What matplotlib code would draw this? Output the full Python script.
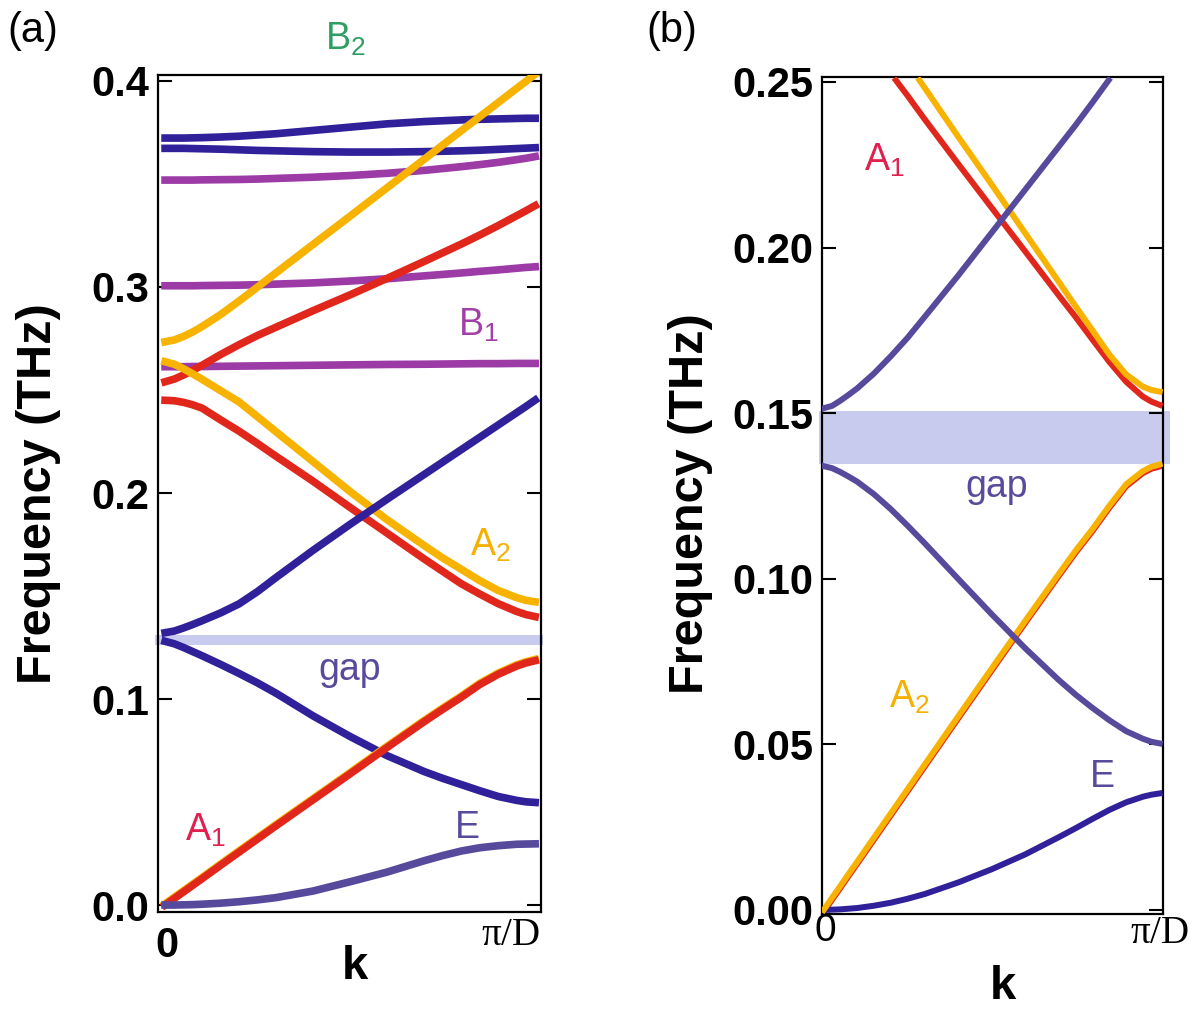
import numpy as np
import matplotlib.pyplot as plt

plt.rcParams['font.family'] = ['Liberation Sans', 'DejaVu Sans']
plt.rcParams['mathtext.default'] = 'regular'

# ===== colours =====
NAVY = '#30209a'
SLATE = '#574a9c'
VIOLET = '#9c3aa6'
RED = '#e1261c'
AMBER = '#f8b200'
GAPC = '#c8cbee'

# ===== panel (a) : k in units of pi/D =====
k_a = [0, 0.025, 0.05, 0.075, 0.1, 0.15, 0.2, 0.25, 0.3, 0.4, 0.5, 0.6, 0.7, 0.75, 0.8, 0.85, 0.9, 0.95, 0.975, 1.0]

a_b2_top = [0.3723, 0.3723, 0.3723, 0.3724, 0.3725, 0.3728, 0.3732, 0.3738, 0.3744, 0.3760, 0.3776, 0.3792, 0.3803, 0.3807, 0.3811, 0.3814, 0.3816, 0.3818, 0.3819, 0.3819]
a_b2_low = [0.3673, 0.3673, 0.3673, 0.3672, 0.3671, 0.3669, 0.3666, 0.3663, 0.3661, 0.3657, 0.3655, 0.3655, 0.3657, 0.3659, 0.3661, 0.3664, 0.3668, 0.3672, 0.3674, 0.3676]
a_b1_top = [0.3519, 0.3519, 0.3519, 0.3519, 0.3520, 0.3521, 0.3522, 0.3524, 0.3527, 0.3533, 0.3541, 0.3552, 0.3566, 0.3575, 0.3584, 0.3594, 0.3605, 0.3618, 0.3625, 0.3633]
a_b1_mid = [0.3006, 0.3006, 0.3006, 0.3006, 0.3007, 0.3008, 0.3009, 0.3011, 0.3014, 0.3020, 0.3029, 0.3040, 0.3054, 0.3061, 0.3068, 0.3076, 0.3083, 0.3091, 0.3095, 0.3098]
a_b1_low = [0.2613, 0.2613, 0.2613, 0.2614, 0.2614, 0.2615, 0.2616, 0.2617, 0.2618, 0.2620, 0.2622, 0.2624, 0.2625, 0.2626, 0.2627, 0.2628, 0.2628, 0.2629, 0.2629, 0.2629]
a_a2_up = [0.2734, 0.2743, 0.2760, 0.2782, 0.2808, 0.2866, 0.2932, 0.3000, 0.3069, 0.3207, 0.3344, 0.3482, 0.3620, 0.3689, 0.3758, 0.3826, 0.3895, 0.3964, 0.3998, 0.4033]
a_a1_up = [0.2540, 0.2553, 0.2573, 0.2596, 0.2620, 0.2672, 0.2720, 0.2765, 0.2805, 0.2885, 0.2962, 0.3042, 0.3124, 0.3166, 0.3208, 0.3252, 0.3298, 0.3346, 0.3370, 0.3395]
a_a2_dn = [0.2637, 0.2625, 0.2603, 0.2578, 0.2552, 0.2497, 0.2442, 0.2370, 0.2297, 0.2152, 0.2007, 0.1870, 0.1745, 0.1685, 0.1630, 0.1575, 0.1527, 0.1492, 0.1479, 0.1472]
a_a1_dn = [0.2450, 0.2448, 0.2440, 0.2428, 0.2412, 0.2355, 0.2300, 0.2240, 0.2178, 0.2057, 0.1930, 0.1805, 0.1680, 0.1620, 0.1560, 0.1510, 0.1463, 0.1425, 0.1410, 0.1400]
a_e_up = [0.1322, 0.1330, 0.1345, 0.1362, 0.1380, 0.1418, 0.1462, 0.1522, 0.1590, 0.1722, 0.1848, 0.1970, 0.2090, 0.2150, 0.2210, 0.2270, 0.2330, 0.2390, 0.2420, 0.2451]
a_e_dn = [0.1280, 0.1268, 0.1250, 0.1230, 0.1210, 0.1168, 0.1124, 0.1078, 0.1028, 0.0918, 0.0818, 0.0725, 0.0648, 0.0615, 0.0585, 0.0555, 0.0527, 0.0508, 0.0501, 0.0498]
a_a1_low = [0.0000, 0.0032, 0.0064, 0.0096, 0.0128, 0.0193, 0.0257, 0.0321, 0.0385, 0.0511, 0.0637, 0.0765, 0.0890, 0.0950, 0.1008, 0.1070, 0.1120, 0.1160, 0.1175, 0.1186]
a_a2_low = [v + 0.0006 for v in a_a1_low]
a_e_low = [0.0000, 0.0000, 0.0001, 0.0002, 0.0004, 0.0009, 0.0016, 0.0025, 0.0036, 0.0068, 0.0113, 0.0160, 0.0215, 0.0240, 0.0262, 0.0278, 0.0288, 0.0295, 0.0296, 0.0297]
a_gap = (0.1262, 0.1311)

# ===== panel (b) =====
k_b = k_a
b_e_low = [0.0000, 0.0001, 0.0002, 0.0004, 0.0006, 0.0013, 0.0022, 0.0034, 0.0048, 0.0083, 0.0123, 0.0168, 0.0220, 0.0247, 0.0275, 0.0302, 0.0325, 0.0342, 0.0348, 0.0352]
b_a2 = [0.0000, 0.0037, 0.0073, 0.0110, 0.0146, 0.0219, 0.0292, 0.0365, 0.0438, 0.0584, 0.0729, 0.0873, 0.1015, 0.1085, 0.1150, 0.1220, 0.1285, 0.1325, 0.1338, 0.1345]
b_a2_red = [v - 0.0006 for v in b_a2]
b_e_dn = [0.1340, 0.1334, 0.1322, 0.1308, 0.1293, 0.1255, 0.1210, 0.1160, 0.1108, 0.1000, 0.0893, 0.0790, 0.0694, 0.0650, 0.0610, 0.0573, 0.0540, 0.0517, 0.0508, 0.0503]
k_b_e_up = [0, 0.025, 0.05, 0.075, 0.1, 0.15, 0.2, 0.25, 0.3, 0.4, 0.5, 0.6, 0.7, 0.75, 0.8, 0.848]
b_e_up = [0.1515, 0.1522, 0.1538, 0.1556, 0.1575, 0.1620, 0.1672, 0.1728, 0.1790, 0.1915, 0.2045, 0.2175, 0.2305, 0.2370, 0.2438, 0.2505]
k_b_a1 = [0.215, 0.25, 0.3, 0.4, 0.5, 0.6, 0.7, 0.75, 0.8, 0.85, 0.9, 0.95, 0.975, 1.0]
b_a1 = [0.2505, 0.2458, 0.2388, 0.2253, 0.2120, 0.1988, 0.1855, 0.1790, 0.1722, 0.1655, 0.1595, 0.1550, 0.1535, 0.1525]
k_b_a2_up = [0.285, 0.3, 0.4, 0.5, 0.6, 0.7, 0.75, 0.8, 0.85, 0.9, 0.95, 0.975, 1.0]
b_a2_up = [0.2505, 0.2483, 0.2335, 0.2190, 0.2043, 0.1896, 0.1822, 0.1750, 0.1677, 0.1617, 0.1580, 0.1570, 0.1565]
b_gap = (0.1345, 0.1505)

fig = plt.figure(figsize=(12, 10.22), dpi=100)
ax1 = fig.add_axes([0.1317, 0.1076, 0.3192, 0.819])
ax2 = fig.add_axes([0.685, 0.1057, 0.2842, 0.819])

# ----- (a) -----
ax1.fill_between([-0.027, 1.022], a_gap[0], a_gap[1], color=GAPC, lw=0, zorder=1, clip_on=False)
lw_a = 5.5
ax1.plot(k_a, a_b2_top, color=NAVY, lw=lw_a, zorder=2)
ax1.plot(k_a, a_b2_low, color=NAVY, lw=lw_a, zorder=2)
ax1.plot(k_a, a_b1_top, color=VIOLET, lw=lw_a, zorder=2)
ax1.plot(k_a, a_b1_mid, color=VIOLET, lw=lw_a, zorder=2)
ax1.plot(k_a, a_b1_low, color=VIOLET, lw=lw_a, zorder=2)
ax1.plot(k_a, a_a2_up, color=AMBER, lw=lw_a, zorder=3)
ax1.plot(k_a, a_a1_up, color=RED, lw=lw_a, zorder=3)
ax1.plot(k_a, a_a2_dn, color=AMBER, lw=lw_a, zorder=3)
ax1.plot(k_a, a_a1_dn, color=RED, lw=lw_a, zorder=3)
ax1.plot(k_a, a_e_up, color=NAVY, lw=lw_a, zorder=3)
ax1.plot(k_a, a_e_dn, color=NAVY, lw=lw_a, zorder=3)
ax1.plot(k_a, a_a2_low, color=AMBER, lw=lw_a, zorder=3)
ax1.plot(k_a, a_a1_low, color=RED, lw=lw_a, zorder=3)
ax1.plot(k_a, a_e_low, color=SLATE, lw=lw_a, zorder=3)

ax1.set_xlim(-0.019, 1.016)
ax1.set_ylim(-0.0034, 0.4029)
ax1.set_yticks([0.0, 0.1, 0.2, 0.3, 0.4], ['0.0', '0.1', '0.2', '0.3', '0.4'], fontweight='bold')

# ----- (b) -----
ax2.fill_between([-0.015, 1.03], b_gap[0], b_gap[1], color=GAPC, lw=0, zorder=1, clip_on=False)
lw_b = 4.3
ax2.plot(k_b, b_e_low, color=NAVY, lw=lw_b, zorder=3)
ax2.plot(k_b, b_a2_red, color=RED, lw=lw_b, zorder=2)
ax2.plot(k_b, b_a2, color=AMBER, lw=lw_b, zorder=3)
ax2.plot(k_b, b_e_dn, color=SLATE, lw=lw_b, zorder=3)
ax2.plot(k_b_e_up, b_e_up, color=SLATE, lw=lw_b, zorder=4)
ax2.plot(k_b_a1, b_a1, color=RED, lw=lw_b, zorder=3)
ax2.plot(k_b_a2_up, b_a2_up, color=AMBER, lw=lw_b, zorder=3)

ax2.set_xlim(-0.005, 1.01)
ax2.set_ylim(-0.0012, 0.2515)
ax2.set_yticks([0.0, 0.05, 0.10, 0.15, 0.20, 0.25],
               ['0.00', '0.05', '0.10', '0.15', '0.20', '0.25'], fontweight='bold')

for ax in (ax1, ax2):
    ax.set_xticks([])
    ax.tick_params(axis='y', direction='in', left=True, right=True, length=10,
                   width=1.5, labelsize=30, pad=6)
    for s in ax.spines.values():
        s.set_linewidth(1.6)
    ax.set_ylabel('Frequency (THz)', fontsize=35, fontweight='bold', va='center')

ax1.yaxis.set_label_coords(-0.313, 0.5)
ax2.yaxis.set_label_coords(-0.387, 0.49)

# x labels
ax1.text(0.514, -0.066, 'k', transform=ax1.transAxes, fontsize=34, fontweight='bold',
         ha='center', va='center')
ax2.text(0.531, -0.087, 'k', transform=ax2.transAxes, fontsize=34, fontweight='bold',
         ha='center', va='center')

# k tick labels
ax1.text(0.024, -0.04, '0', transform=ax1.transAxes, fontsize=30, fontweight='bold',
         ha='center', va='center')
ax1.text(0.92, -0.028, r'$\pi$/D', transform=ax1.transAxes, fontsize=28,
         family='Liberation Serif', ha='center', va='center')
ax2.text(0.01, -0.02, '0', transform=ax2.transAxes, fontsize=28,
         ha='center', va='center')
ax2.text(0.99, -0.023, r'$\pi$/D', transform=ax2.transAxes, fontsize=28,
         family='Liberation Serif', ha='center', va='center')

# mode labels
lab = dict(fontsize=27, ha='center', va='center')
ax1.text(0.486, 0.42, r'B$_2$', color='#2f9e62', clip_on=False, **lab)
ax1.text(0.846, 0.2816, r'B$_1$', color='#a040a8', **lab)
ax1.text(0.878, 0.1748, r'A$_2$', color='#f5b000', **lab)
ax1.text(0.5, 0.114, 'gap', color='#5a4a9c', **lab)
ax1.text(0.108, 0.0364, r'A$_1$', color='#e0204e', **lab)
ax1.text(0.816, 0.0374, 'E', color='#5a4a9c', **lab)

ax2.text(0.182, 0.2264, r'A$_1$', color='#e0204e', **lab)
ax2.text(0.515, 0.1277, 'gap', color='#5a4a9c', **lab)
ax2.text(0.256, 0.0643, r'A$_2$', color='#f5b000', **lab)
ax2.text(0.829, 0.0403, 'E', color='#5a4a9c', **lab)

fig.text(0.027, 0.97, '(a)', fontsize=30, ha='center', va='center')
fig.text(0.56, 0.97, '(b)', fontsize=30, ha='center', va='center')

fig.savefig('out.png', dpi=100)
